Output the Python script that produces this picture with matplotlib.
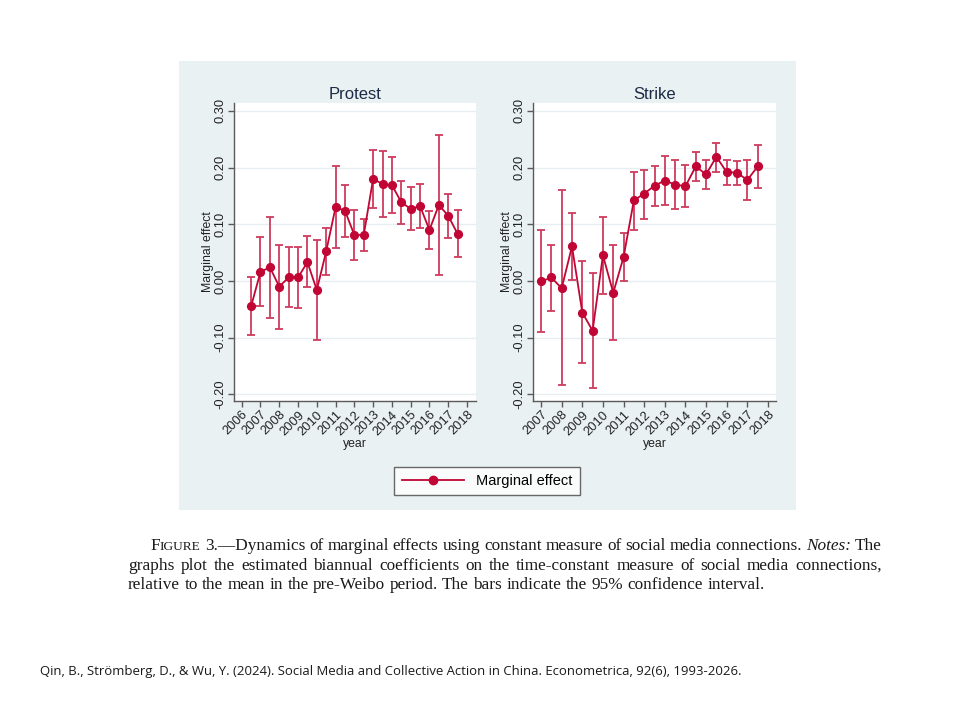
import matplotlib
matplotlib.use("Agg")
import matplotlib.pyplot as plt
from matplotlib.patches import Rectangle
from matplotlib.lines import Line2D

# ---------------- data ----------------
protest_x = [2006.5, 2007, 2007.5, 2008, 2008.5, 2009, 2009.5, 2010, 2010.5, 2011, 2011.5, 2012,
             2012.5, 2013, 2013.5, 2014, 2014.5, 2015, 2015.5, 2016, 2016.5, 2017, 2017.5]
protest_est = [-0.045, 0.016, 0.024, -0.010, 0.006, 0.006, 0.033, -0.016, 0.052, 0.130, 0.124, 0.081,
               0.081, 0.180, 0.171, 0.169, 0.139, 0.127, 0.132, 0.090, 0.134, 0.115, 0.083]
protest_lo = [-0.095, -0.045, -0.065, -0.085, -0.046, -0.048, -0.011, -0.104, 0.011, 0.058, 0.077, 0.036,
              0.052, 0.129, 0.112, 0.120, 0.101, 0.089, 0.093, 0.056, 0.011, 0.076, 0.043]
protest_hi = [0.006, 0.077, 0.112, 0.064, 0.060, 0.059, 0.079, 0.072, 0.093, 0.203, 0.170, 0.126,
              0.110, 0.231, 0.230, 0.218, 0.176, 0.166, 0.171, 0.123, 0.257, 0.153, 0.125]

strike_x = [2007, 2007.5, 2008, 2008.5, 2009, 2009.5, 2010, 2010.5, 2011, 2011.5, 2012,
            2012.5, 2013, 2013.5, 2014, 2014.5, 2015, 2015.5, 2016, 2016.5, 2017, 2017.5]
strike_est = [-0.001, 0.006, -0.013, 0.061, -0.056, -0.088, 0.045, -0.021, 0.042, 0.142, 0.154,
              0.168, 0.177, 0.170, 0.167, 0.202, 0.188, 0.219, 0.192, 0.191, 0.178, 0.202]
strike_lo = [-0.091, -0.053, -0.184, 0.002, -0.145, -0.189, -0.024, -0.105, 0.000, 0.090, 0.110,
             0.133, 0.134, 0.127, 0.130, 0.176, 0.163, 0.193, 0.170, 0.169, 0.143, 0.164]
strike_hi = [0.089, 0.064, 0.160, 0.120, 0.035, 0.014, 0.113, 0.063, 0.085, 0.192, 0.196,
             0.203, 0.220, 0.213, 0.204, 0.227, 0.213, 0.244, 0.213, 0.212, 0.213, 0.240]

protest_years = list(range(2006, 2019))
strike_years = list(range(2007, 2019))
y_ticks = [-0.2, -0.1, 0.0, 0.1, 0.2, 0.3]
y_ticklabels = ["-0.20", "-0.10", "0.00", "0.10", "0.20", "0.30"]

caption_lines = [
    "—Dynamics of marginal effects using constant measure of social media connections. Notes: The",
    "graphs plot the estimated biannual coefficients on the time-constant measure of social media connections,",
    "relative to the mean in the pre-Weibo period. The bars indicate the 95% confidence interval.",
]
citation = ("Qin, B., Strömberg, D., & Wu, Y. (2024). Social Media and Collective Action in China. "
            "Econometrica, 92(6), 1993-2026.")

# ---------------- style ----------------
W, H = 960, 720
RED = "#C10534"
CI_RED = "#CF3C5E"
PANEL = "#EAF1F3"
GRID = "#E6EEF1"
AXC = "#5A5A5A"
TITLEC = "#1C2A45"
SANS = ["Liberation Sans", "DejaVu Sans"]
SERIF = ["Liberation Serif", "DejaVu Serif"]

fig = plt.figure(figsize=(W / 100, H / 100), dpi=100)
fig.patch.set_facecolor("white")


def fx(px):
    return px / W


def fy(py):
    return 1 - py / H


# background panel
bg = Rectangle((fx(179), fy(510)), fx(796) - fx(179), fy(61) - fy(510),
               transform=fig.transFigure, facecolor=PANEL, edgecolor="none", zorder=-10)
fig.patches.append(bg)


def make_panel(left, right, top, bottom, x, est, lo, hi, years, xlim, title):
    ax = fig.add_axes([fx(left), fy(bottom), fx(right) - fx(left), fy(top) - fy(bottom)], zorder=2)
    ax.set_facecolor("white")
    ax.set_ylim(-0.212, 0.314)
    ax.set_xlim(*xlim)
    for yv in y_ticks:
        ax.axhline(yv, color=GRID, lw=1.0, zorder=0)
    yerr = [[e - l for e, l in zip(est, lo)], [h - e for e, h in zip(est, hi)]]
    ax.errorbar(x, est, yerr=yerr, fmt="none", ecolor=CI_RED, elinewidth=1.3, capsize=2.6,
                capthick=1.3, zorder=2)
    ax.plot(x, est, color=RED, lw=1.3, marker="o", markersize=5.6, zorder=3)
    ax.set_yticks(y_ticks)
    ax.set_yticklabels(y_ticklabels, rotation=90, va="center", fontsize=9.3, family=SANS, color="#222222")
    ax.set_xticks(years)
    ax.set_xticklabels([str(v) for v in years], rotation=45, ha="right", rotation_mode="anchor",
                       fontsize=9.3, family=SANS, color="#222222")
    for s in ["top", "right"]:
        ax.spines[s].set_visible(False)
    for s in ["left", "bottom"]:
        ax.spines[s].set_color(AXC)
        ax.spines[s].set_linewidth(1.0)
    ax.tick_params(axis="both", colors=AXC, length=4, width=1.0, labelcolor="#222222", pad=1.5)
    ax.set_ylabel("Marginal effect", fontsize=8.8, family=SANS, color="#222222", labelpad=0)
    ax.set_xlabel("year", fontsize=8.8, family=SANS, color="#222222", labelpad=0)
    ax.set_title(title, fontsize=12, family=SANS, color=TITLEC, pad=3)
    return ax


make_panel(234, 476, 103, 401, protest_x, protest_est, protest_lo, protest_hi,
           protest_years, (2005.59, 2018.48), "Protest")
make_panel(533, 776, 103, 401, strike_x, strike_est, strike_lo, strike_hi,
           strike_years, (2006.61, 2018.39), "Strike")

# legend
handle = Line2D([], [], color=RED, lw=1.3, marker="o", markersize=6)
leg = fig.legend([handle], ["Marginal effect"], loc="center", bbox_to_anchor=(fx(487), fy(481)),
                 frameon=True, fancybox=False, handlelength=4.3, borderpad=0.5,
                 prop={"family": SANS, "size": 10.5})
leg.get_frame().set_edgecolor("#444444")
leg.get_frame().set_linewidth(1.0)

# caption with justification
fig.canvas.draw()
renderer = fig.canvas.get_renderer()
CAP_SIZE = 12.4


def text_width(s, size, style="normal"):
    t = fig.text(0, 0, s, fontsize=size, family=SERIF, style=style)
    w = t.get_window_extent(renderer).width
    t.remove()
    return w


def draw_justified(words, x0, x1, ybase, size, justify=True):
    widths = [text_width(w, s, st) for w, s, st in words]
    total = sum(widths)
    n = len(words)
    if justify and n > 1:
        gap = (x1 - x0 - total) / (n - 1)
    else:
        gap = text_width(" ", size)
    x = x0
    for (w, s, st), wd in zip(words, widths):
        fig.text(fx(x), fy(ybase), w, fontsize=s, family=SERIF, style=st, va="baseline", color="#1a1a1a")
        x += wd + gap


# line 1: small caps FIGURE 3.
small = CAP_SIZE * 0.78
x = 150
fig.text(fx(x), fy(550), "F", fontsize=CAP_SIZE, family=SERIF, va="baseline", color="#1a1a1a")
x += text_width("F", CAP_SIZE)
fig.text(fx(x), fy(550), "IGURE", fontsize=small, family=SERIF, va="baseline", color="#1a1a1a")
x += text_width("IGURE", small) + text_width(" ", CAP_SIZE)
first = caption_lines[0]
parts = first.split(" ")
words = [("3." + parts[0], CAP_SIZE, "normal")]
for p in parts[1:]:
    st = "italic" if p.startswith("Notes") else "normal"
    words.append((p, CAP_SIZE, st))
draw_justified(words, x, 882, 550, CAP_SIZE)
draw_justified([(w, CAP_SIZE, "normal") for w in caption_lines[1].split(" ")], 128, 882, 570, CAP_SIZE)
draw_justified([(w, CAP_SIZE, "normal") for w in caption_lines[2].split(" ")], 128, 882, 589, CAP_SIZE,
               justify=False)

# citation
fig.text(fx(40), fy(675), citation, fontsize=9.45, family=["Open Sans", "DejaVu Sans"], va="baseline",
         color="#1a1a1a")

fig.savefig("out.png", dpi=100, facecolor="white")
